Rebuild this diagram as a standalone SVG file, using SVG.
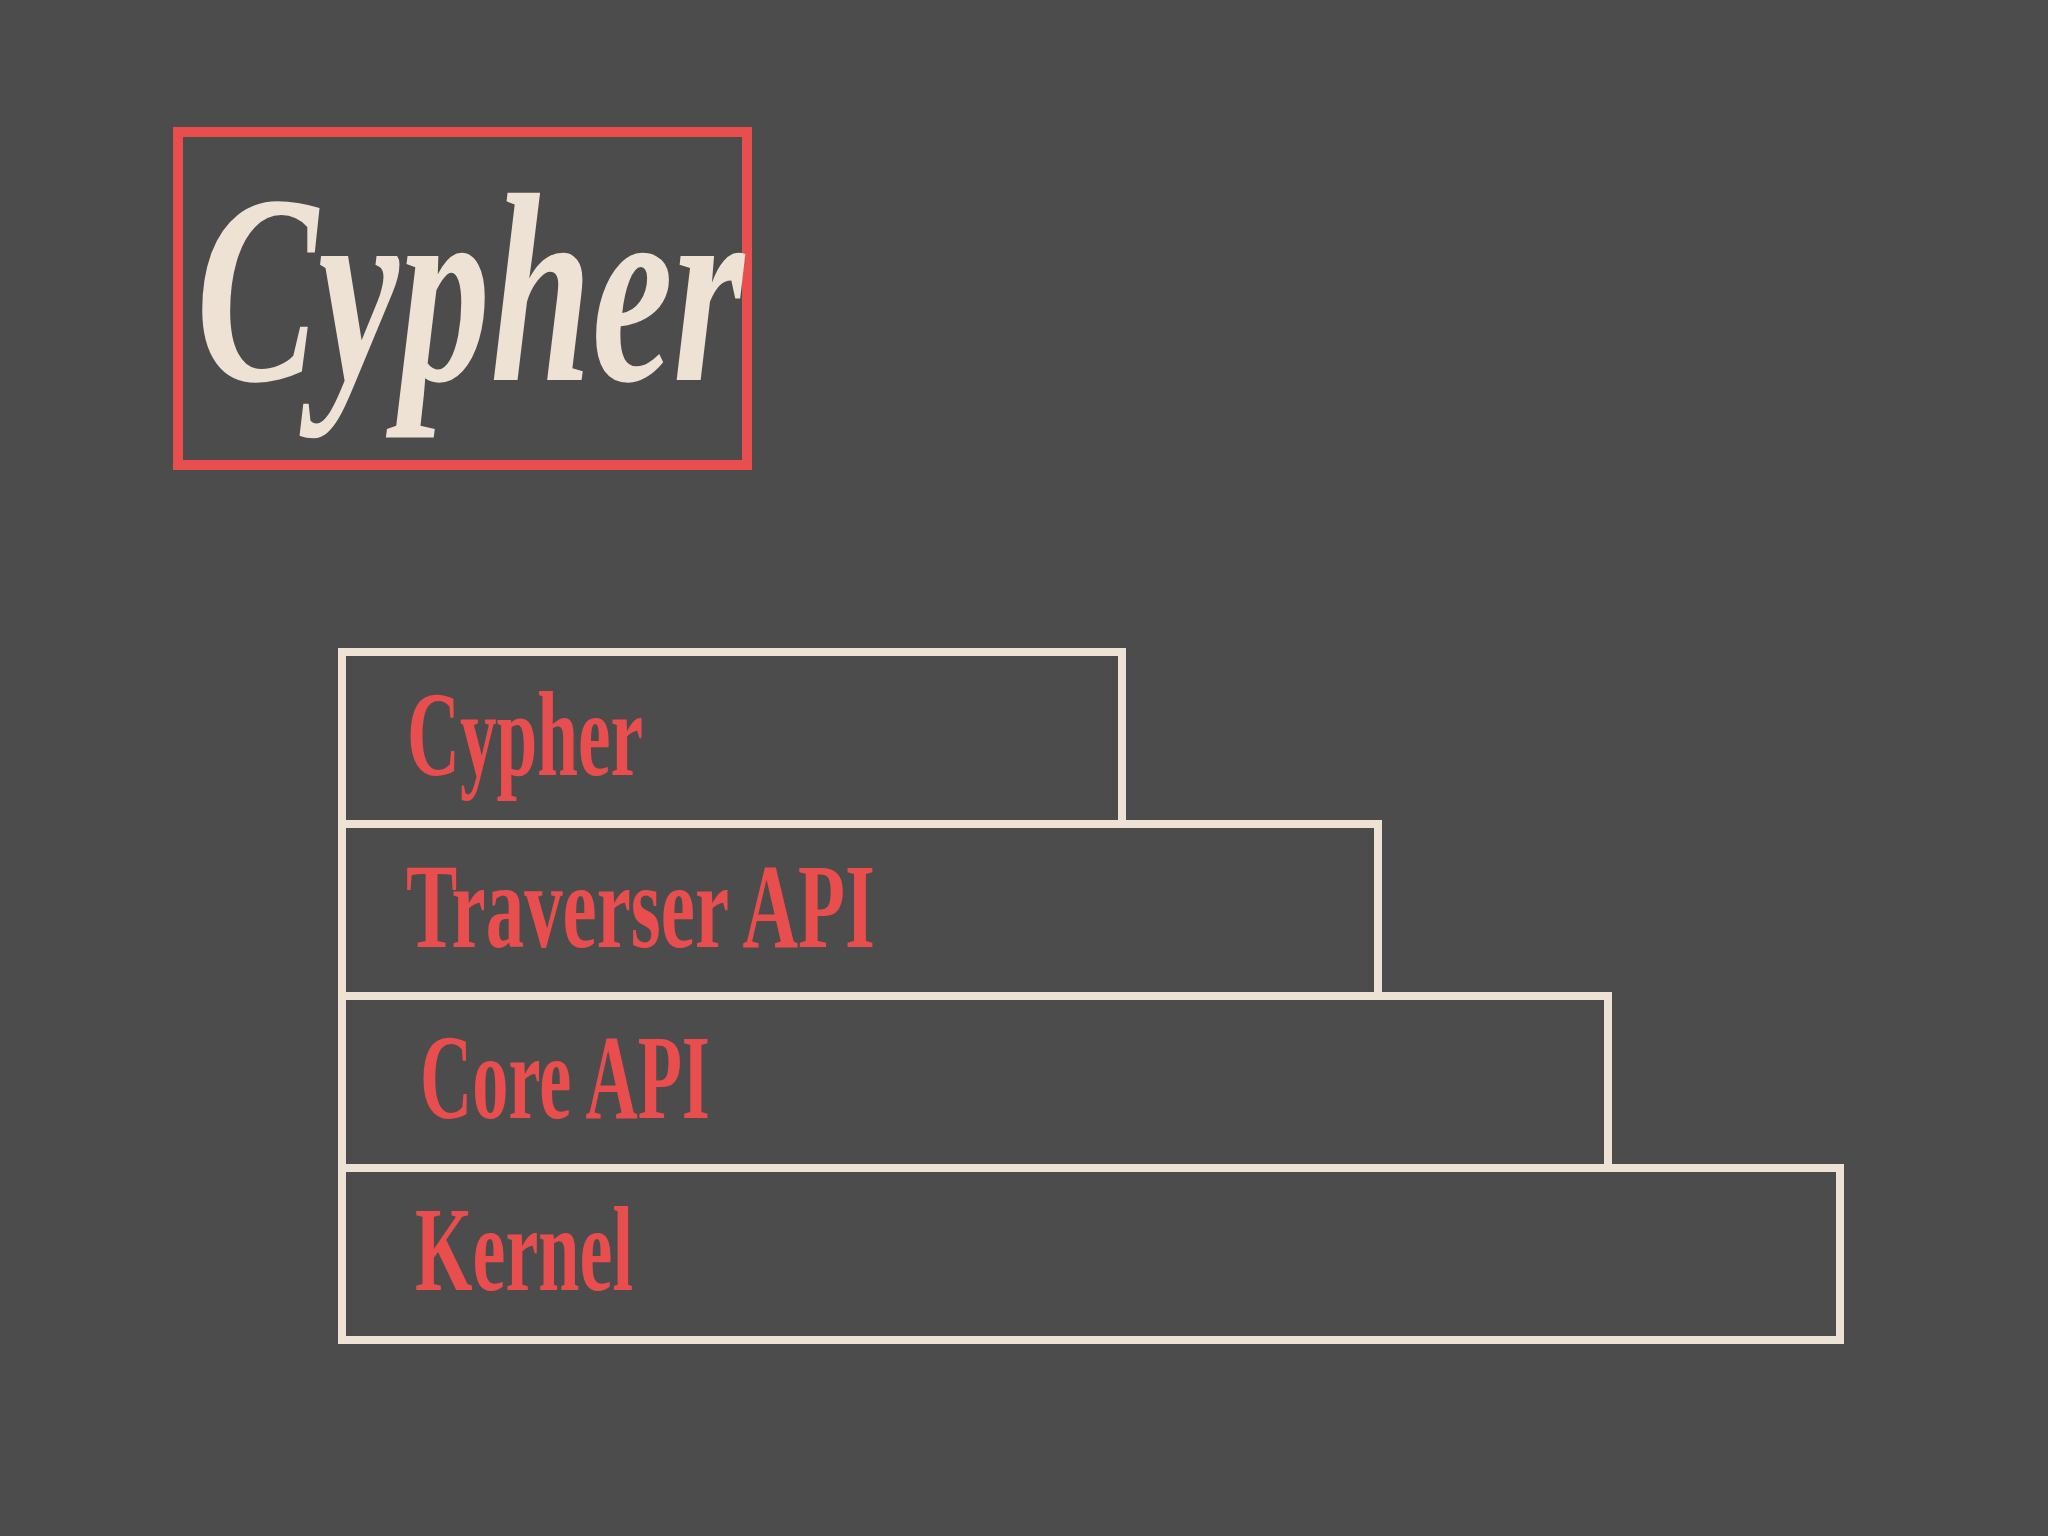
<svg xmlns="http://www.w3.org/2000/svg" width="2048" height="1536" viewBox="0 0 2048 1536">
<style>
.bg{fill:#4d4c4d}
.layer{fill:#4d4c4d;stroke:#ede2d4;stroke-width:8}
.lbl{fill:#e94e4e;font-family:"Liberation Serif","DejaVu Serif",serif;font-weight:bold;font-size:120px}
.title{fill:#ede2d4;font-family:"Liberation Serif","DejaVu Serif",serif;font-style:italic;font-weight:bold;font-size:270px}
</style>
<rect class="bg" x="0" y="0" width="2048" height="1536"/>
<g id="title">
<rect x="178" y="132" width="569" height="333" fill="none" stroke="#e94e4e" stroke-width="10"/>
<text class="title" x="196" y="380" textLength="548" lengthAdjust="spacingAndGlyphs">Cypher</text>
</g>
<g id="kernel">
<rect class="layer" x="342" y="1168" width="1498" height="172"/>
<text class="lbl" x="415" y="1290" textLength="218" lengthAdjust="spacingAndGlyphs">Kernel</text>
</g>
<g id="core-api">
<rect class="layer" x="342" y="996" width="1266" height="172"/>
<text class="lbl" x="420" y="1118" textLength="290" lengthAdjust="spacingAndGlyphs">Core API</text>
</g>
<g id="traverser-api">
<rect class="layer" x="342" y="824" width="1036" height="172"/>
<text class="lbl" x="406" y="947" textLength="469" lengthAdjust="spacingAndGlyphs">Traverser API</text>
</g>
<g id="cypher">
<rect class="layer" x="342" y="652" width="780" height="172"/>
<text class="lbl" x="407" y="775" textLength="236" lengthAdjust="spacingAndGlyphs">Cypher</text>
</g>
<g id="connectors"/>
</svg>
